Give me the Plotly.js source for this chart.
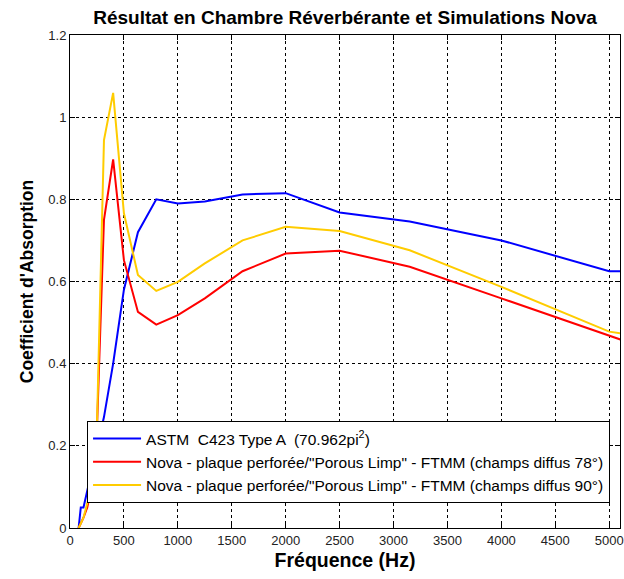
<!DOCTYPE html>
<html>
<head>
<meta charset="utf-8">
<script src="https://cdn.plot.ly/plotly-3.0.1.min.js"></script>
<style>html,body{margin:0;padding:0;background:#fff;}#chart{width:624px;height:579px;}</style>
</head>
<body>
<div id="chart"></div>
<script>
const freq = [80,100,125,160,200,250,315,400,500,630,800,1000,1250,1600,2000,2500,3150,4000,5000,6300];
const astm = [0,0.05,0.05,0.09,0.14,0.20,0.27,0.40,0.58,0.72,0.80,0.79,0.795,0.812,0.815,0.768,0.746,0.70,0.625,0.625];
const nova78 = [0,0.01,0.025,0.05,0.10,0.24,0.75,0.897,0.652,0.526,0.495,0.518,0.559,0.625,0.668,0.675,0.636,0.559,0.47,0.35];
const nova90 = [0,0.01,0.025,0.06,0.11,0.25,0.944,1.059,0.766,0.616,0.577,0.599,0.644,0.70,0.733,0.723,0.676,0.587,0.478,0.43];
const names = [
  'ASTM  C423 Type A  (70.962pi<sup>2</sup>)',
  'Nova - plaque perforée/"Porous Limp" - FTMM (champs diffus 78°)',
  'Nova - plaque perforée/"Porous Limp" - FTMM (champs diffus 90°)'
];
const xTicks = [0,500,1000,1500,2000,2500,3000,3500,4000,4500,5000];
const yTicks = [0,0.2,0.4,0.6,0.8,1,1.2];

const colors = ['#0000ff','#ff0000','#ffcc00'];
const series = [astm, nova78, nova90];
const traces = series.map((s,i)=>({
  x: freq, y: s, type:'scatter', mode:'lines', name: names[i],
  line:{color:colors[i], width:2}
}));

const font = 'Arial, "Liberation Sans", sans-serif';
const layout = {
  width:624, height:579,
  margin:{l:70,r:4,t:35,b:51},
  paper_bgcolor:'#fff', plot_bgcolor:'#fff',
  font:{family:font, color:'#000'},
  title:{text:'<b>Résultat en Chambre Réverbérante et Simulations Nova</b>', font:{size:19, family:font, color:'#000'}, x:0.553, xanchor:'center', y:0.97, yanchor:'middle'},
  xaxis:{
    range:[0,5100], tickvals:xTicks, ticktext:xTicks.map(String),
    showgrid:true, gridcolor:'#000', gridwidth:1, griddash:'3px,3px',
    zeroline:false, showline:true, linecolor:'#000', linewidth:1, mirror:'ticks',
    ticks:'inside', ticklen:5, tickcolor:'#000',
    tickfont:{size:13, color:'#222', family:font},
    title:{text:'<b>Fréquence (Hz)</b>', font:{size:19.5, color:'#000', family:font}, standoff:6}
  },
  yaxis:{
    range:[0,1.2], tickvals:yTicks, ticktext:['0','0.2','0.4','0.6','0.8','1','1.2'],
    showgrid:true, gridcolor:'#000', gridwidth:1, griddash:'3px,3px',
    zeroline:false, showline:true, linecolor:'#000', linewidth:1, mirror:'ticks',
    ticks:'inside', ticklen:5, tickcolor:'#000',
    tickfont:{size:13, color:'#222', family:font},
    title:{text:'<b>Coefficient d\'Absorption</b>', font:{size:17.5, color:'#000', family:font}, standoff:10}
  },
  showlegend:true,
  legend:{
    x:0.031, y:0.217, xanchor:'left', yanchor:'top',
    bgcolor:'#fff', bordercolor:'#000', borderwidth:1,
    font:{size:15.5, color:'#000', family:font},
    itemwidth:48, tracegroupgap:0
  }
};
Plotly.newPlot('chart', traces, layout, {displayModeBar:false, staticPlot:true});
</script>
</body>
</html>
